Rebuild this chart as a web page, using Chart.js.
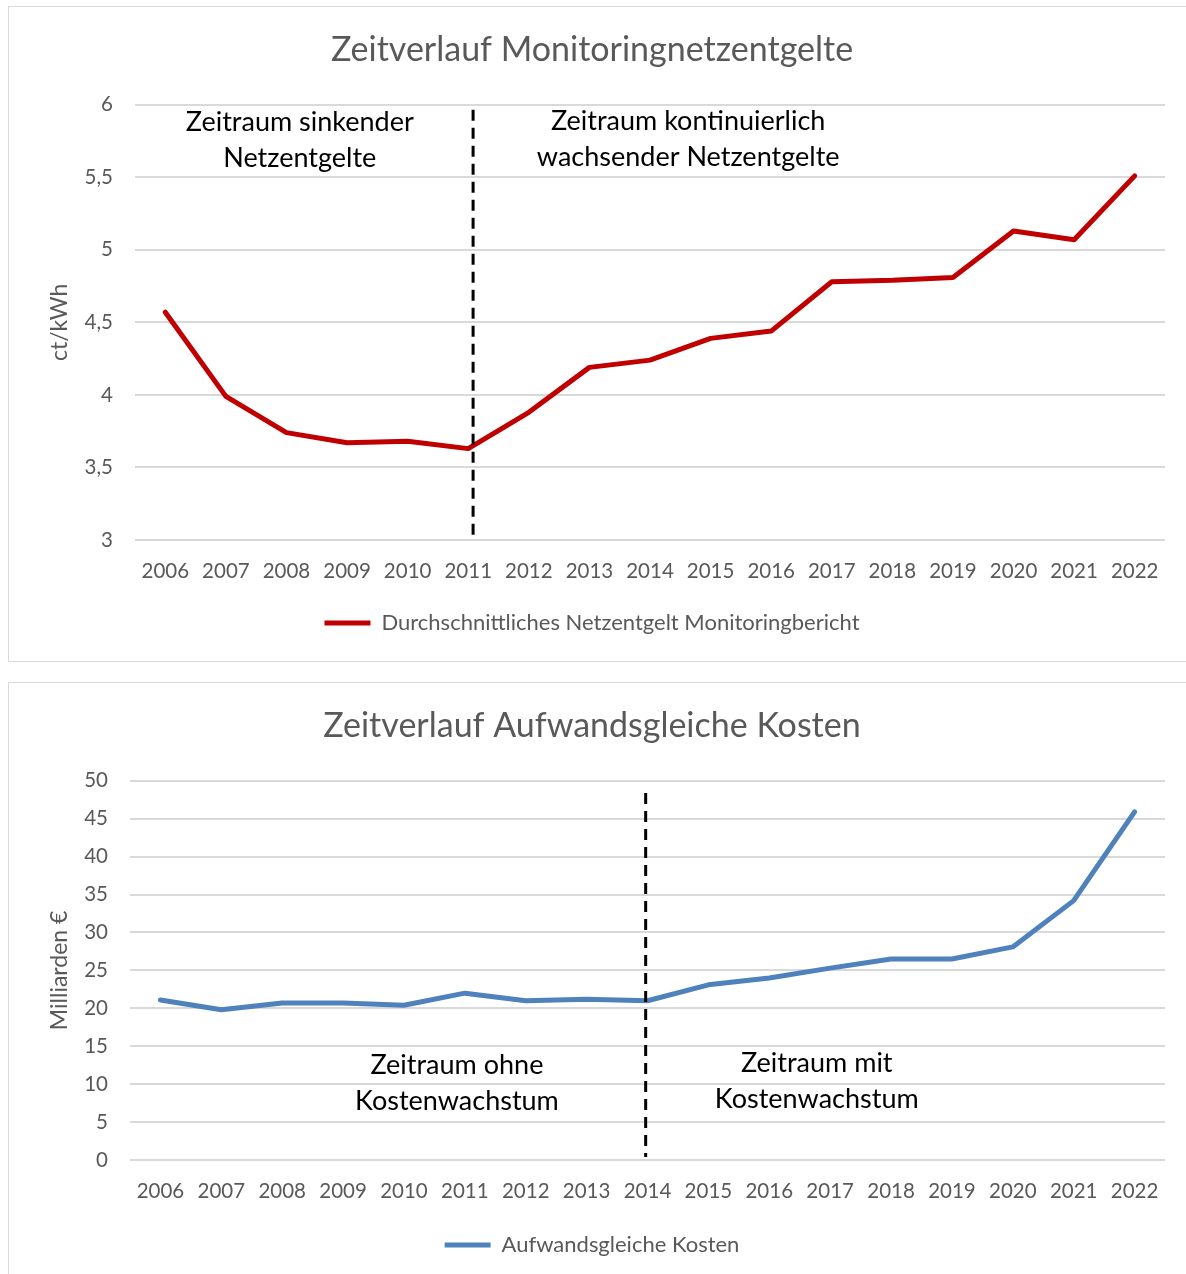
<!DOCTYPE html>
<html lang="de">
<head>
<meta charset="UTF-8">
<title>Zeitverlauf Netzentgelte und Kosten</title>
<script src="https://cdn.jsdelivr.net/npm/chart.js"></script>
<style>
    body { margin: 0; background: #fff; }
    .box { position: absolute; left: 8px; width: 1190px; border: 1px solid #d9d9d9; background: #fff; }
    #box1 { top: 6px; height: 654px; }
    #box2 { top: 682px; height: 620px; }
</style>
</head>
<body>
<div class="box" id="box1"><canvas id="c1" width="1176" height="654"></canvas></div>
<div class="box" id="box2"><canvas id="c2" width="1176" height="600"></canvas></div>

<script>
const years = ['2006', '2007', '2008', '2009', '2010', '2011', '2012', '2013', '2014',
    '2015', '2016', '2017', '2018', '2019', '2020', '2021', '2022'];

// ct/kWh
const netzentgelte = [4.57, 3.99, 3.74, 3.67, 3.68, 3.63, 3.88, 4.19, 4.24,
    4.39, 4.44, 4.78, 4.79, 4.81, 5.13, 5.07, 5.51];

// Milliarden Euro
const kosten = [21.1, 19.8, 20.7, 20.7, 20.4, 22.0, 21.0, 21.2, 21.0,
    23.1, 24.0, 25.3, 26.5, 26.5, 28.1, 34.2, 45.9];

const topTexts = [['Zeitraum sinkender', 'Netzentgelte'], ['Zeitraum kontinuierlich', 'wachsender Netzentgelte']];
const bottomTexts = [['Zeitraum ohne', 'Kostenwachstum'], ['Zeitraum mit', 'Kostenwachstum']];

const FONT = 'Lato, "Open Sans", sans-serif';
const GREY = '#595959';

// draws the dashed divider and the period labels, positioned through the scales
const zeitraumPlugin = {
    id: 'zeitraum',
    afterDatasetsDraw(chart, args, opts) {
        const { ctx, scales: { x, y } } = chart;
        ctx.save();
        const xd = x.getPixelForValue(opts.divider);
        ctx.strokeStyle = '#000';
        ctx.lineWidth = 3;
        ctx.setLineDash([11, 7]);
        ctx.beginPath();
        ctx.moveTo(xd, y.getPixelForValue(opts.lineFrom));
        ctx.lineTo(xd, y.getPixelForValue(opts.lineTo));
        ctx.stroke();
        ctx.setLineDash([]);

        ctx.fillStyle = '#000';
        ctx.font = opts.fontSize + 'px ' + FONT;
        ctx.textAlign = 'center';
        ctx.textBaseline = 'middle';
        opts.labels.forEach(l => {
            const px = x.getPixelForValue(l.x);
            const py = y.getPixelForValue(l.y);
            l.lines.forEach((t, i) => ctx.fillText(t, px, py + i * opts.lineHeight));
        });
        ctx.restore();
    }
};

function makeChart(id, cfg) {
    return new Chart(document.getElementById(id), {
        type: 'line',
        data: {
            labels: years,
            datasets: [{
                label: cfg.label,
                data: cfg.data,
                borderColor: cfg.color,
                backgroundColor: cfg.color,
                borderWidth: 5,
                borderCapStyle: 'round',
                borderJoinStyle: 'round',
                pointRadius: 0,
                tension: 0
            }]
        },
        options: {
            responsive: false,
            animation: false,
            locale: 'de-DE',
            layout: { padding: { left: 10, right: 20, top: 0, bottom: 17 } },
            plugins: {
                title: {
                    display: true,
                    text: cfg.title,
                    color: GREY,
                    font: { family: FONT, size: 34, weight: 'normal' },
                    padding: { top: 23, bottom: 34 }
                },
                legend: {
                    position: 'bottom',
                    labels: {
                        color: GREY,
                        font: { family: FONT, size: 22 },
                        usePointStyle: true,
                        pointStyle: 'line',
                        pointStyleWidth: 46,
                        padding: 10
                    }
                },
                tooltip: { enabled: false },
                zeitraum: cfg.annotation
            },
            scales: {
                x: {
                    offset: true,
                    grid: { display: false, drawTicks: false },
                    border: { display: false },
                    ticks: { color: GREY, font: { family: FONT, size: 20.5 }, padding: 19, maxRotation: 0, autoSkip: false },
                    afterFit(s) { s.height = cfg.xHeight; }
                },
                y: {
                    min: cfg.min,
                    max: cfg.max,
                    grid: { color: '#d9d9d9', lineWidth: 2, drawTicks: false },
                    border: { display: false },
                    ticks: {
                        stepSize: cfg.step,
                        color: GREY,
                        font: { family: FONT, size: 20.5 },
                        padding: 22,
                        callback: v => String(v).replace('.', ',')
                    },
                    title: {
                        display: true,
                        text: cfg.yTitle,
                        color: GREY,
                        font: { family: FONT, size: 23 },
                        padding: { top: 27, bottom: 0 }
                    },
                    afterFit(s) { s.width = cfg.yWidth; }
                }
            }
        },
        plugins: [zeitraumPlugin]
    });
}

makeChart('c1', {
    title: 'Zeitverlauf Monitoringnetzentgelte',
    label: 'Durchschnittliches Netzentgelt Monitoringbericht',
    data: netzentgelte,
    color: '#C00000',
    min: 3, max: 6, step: 0.5,
    yTitle: 'ct/kWh',
    yWidth: 116,
    xHeight: 62,
    annotation: {
        divider: 5.08, lineFrom: 5.966, lineTo: 3.034,
        fontSize: 27, lineHeight: 36,
        labels: [
            { x: 2.22, y: 5.876, lines: topTexts[0] },
            { x: 8.63, y: 5.883, lines: topTexts[1] }
        ]
    }
});

makeChart('c2', {
    title: 'Zeitverlauf Aufwandsgleiche Kosten',
    label: 'Aufwandsgleiche Kosten',
    data: kosten,
    color: '#4F81BD',
    min: 0, max: 50, step: 5,
    yTitle: 'Milliarden €',
    yWidth: 111,
    xHeight: 64,
    annotation: {
        divider: 7.97, lineFrom: 48.4, lineTo: 0.4,
        fontSize: 27, lineHeight: 36,
        labels: [
            { x: 4.87, y: 12.53, lines: bottomTexts[0] },
            { x: 10.78, y: 12.8, lines: bottomTexts[1] }
        ]
    }
});
</script>
</body>
</html>
